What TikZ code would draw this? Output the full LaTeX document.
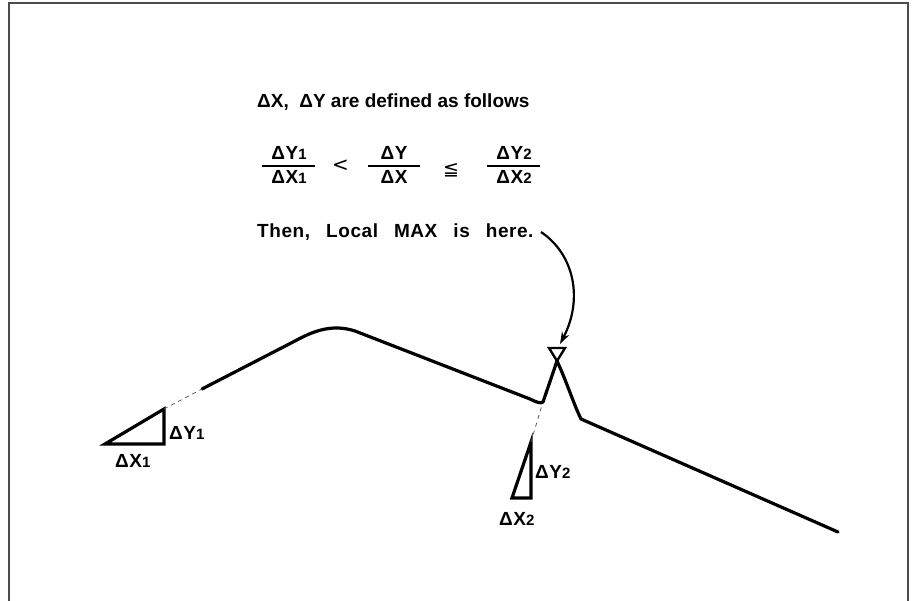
\documentclass[tikz,border=0pt]{standalone}
\usepackage{fontspec}
\setmainfont{Liberation Sans}
\newfontfamily\plotfont{Liberation Sans}
\newfontfamily\widefont{Liberation Sans}[LetterSpace=3]
\newfontfamily\symfont{DejaVu Sans}
\usetikzlibrary{arrows.meta}
\newcommand{\sbx}[1]{{\fontsize{15}{15}\selectfont #1}}
\newcommand{\gap}{\hspace{16pt}}
\tikzset{
  lbl/.style={inner sep=0pt, anchor=base west, font=\fontsize{19}{22}\selectfont\widefont\bfseries},
  flbl/.style={lbl, anchor=base},
  curve/.style={line width=3.2pt, line join=round, line cap=round},
  tri/.style={line width=3.2pt, line join=miter},
  guide/.style={line width=0.7pt, dash pattern=on 4pt off 4pt, black!70},
  frame/.style={line width=1.3pt, black!70},
  fbar/.style={line width=2.4pt}
}
\begin{document}
\begin{tikzpicture}[x=1pt, y=-1pt]
\useasboundingbox (0,0) rectangle (912,601);
% frame (no bottom edge)
\draw[frame] (9,601) -- (9,3) -- (908,3) -- (908,601);
% texts
\node[lbl, font=\fontsize{19}{22}\selectfont\plotfont\bfseries] (def) at (257,108) {ΔX,\ \ ΔY are defined as follows};
\node[flbl] (n1) at (289,160) {ΔY\sbx{1}};
\node[flbl] (d1) at (289,184) {ΔX\sbx{1}};
\node[inner sep=0pt, anchor=base west, font=\fontsize{20}{20}\selectfont\symfont] (lt) at (332,172) {<};
\node[flbl] (n2) at (394,160) {ΔY};
\node[flbl] (d2) at (394,184) {ΔX};
\node[inner sep=0pt, anchor=base west, font=\fontsize{19}{20}\selectfont\symfont] (le) at (443,176) {≦};
\node[flbl] (n3) at (514,160) {ΔY\sbx{2}};
\node[flbl] (d3) at (514,184) {ΔX\sbx{2}};
\draw[fbar] (262,166) -- (315,166);
\draw[fbar] (368,166) -- (420,166);
\draw[fbar] (487,166) -- (540,166);
\node[lbl] (then) at (257,238) {Then,\gap Local\gap MAX\gap is\gap here.};
% main curve
\coordinate (c0) at (202,389);
\coordinate (apex) at (557,361);
\draw[curve] (c0) -- (295,341) .. controls (315,330) and (333,324) .. (355,331)
  -- (530,399) .. controls (536,402) and (541,404) .. (543,402) -- (apex)
  .. controls (566,380) and (574,405) .. (581,419) -- (838,532);
% marker
\draw[line width=2.4pt, line join=miter] (549,348) -- (565,348) -- (apex) -- cycle;
\coordinate (mtop) at (560,344);
% arrow
\coordinate (astart) at (541,232);
\draw[line width=2.2pt, -{Stealth[length=12pt,width=8pt]}] (astart) .. controls (575,255) and (583,300) .. (mtop);
% triangle 1
\coordinate (t1a) at (105,444);
\coordinate (t1b) at (164,409);
\coordinate (t1c) at (164,444);
\draw[tri] (t1a) -- (t1b) -- (t1c) -- cycle;
\draw[guide] (t1b) -- (c0);
\node[lbl] (dy1) at (169,439) {ΔY\sbx{1}};
\node[lbl] (dx1) at (115,467) {ΔX\sbx{1}};
% triangle 2
\coordinate (t2a) at (512,498);
\coordinate (t2b) at (531,442);
\coordinate (t2c) at (531,498);
\draw[tri] (t2a) -- (t2b) -- (t2c) -- cycle;
\coordinate (g2) at (542,405);
\draw[guide] (t2b) -- (g2);
\node[lbl] (dy2) at (535,478) {ΔY\sbx{2}};
\node[lbl] (dx2) at (499,525) {ΔX\sbx{2}};
\end{tikzpicture}
\end{document}
